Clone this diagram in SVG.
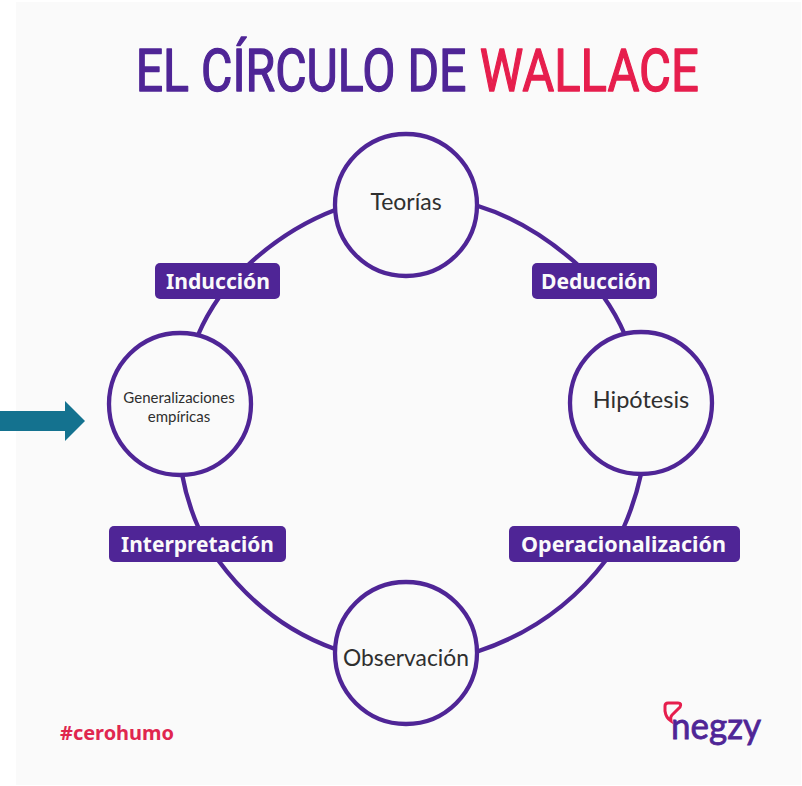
<svg xmlns="http://www.w3.org/2000/svg" width="802" height="786" viewBox="0 0 802 786">
<style>
.ring{fill:#fafafa;stroke:#4f2596;stroke-width:4.300}
.arc{fill:none;stroke:#4f2596;stroke-width:4.300}
.box{fill:#4f2596}
.lab{font-family:"Noto Sans","Liberation Sans",sans-serif;font-weight:700;font-size:22px;fill:#fafafa}
.node{font-family:"Lato","Liberation Sans",sans-serif;fill:#2f2f2f;text-anchor:middle}
.title{font-family:"Roboto","Liberation Sans",sans-serif;font-weight:400;font-size:58.500px;stroke-linejoin:round;stroke-width:1.300}
</style>
<rect width="802" height="786" fill="#fff"/>
<rect x="16" y="2" width="785" height="783" fill="#fafafa"/>
<g transform="scale(.78 1)">
<text class="title" x="174" y="91.500" fill="#4f2596" stroke="#4f2596" textLength="424" lengthAdjust="spacingAndGlyphs">EL CÍRCULO DE</text>
<text class="title" x="615" y="91.500" fill="#e61e4d" stroke="#e61e4d" textLength="281" lengthAdjust="spacingAndGlyphs">WALLACE</text>
</g>
<g id="connectors">
<path class="arc" d="M478 206Q530 222 578 265"/>
<path class="arc" d="M603 296Q616 314 625 335"/>
<path class="arc" d="M641 474Q635 502 623 529"/>
<path class="arc" d="M606 560Q556 626 476 652"/>
<path class="arc" d="M182 474Q187 502 199 529"/>
<path class="arc" d="M218 560Q265 624 335 649"/>
<path class="arc" d="M198 335Q206 316 220 296"/>
<path class="arc" d="M248 265Q288 228 335 210"/>
</g>
<g id="teorias"><circle class="ring" cx="406" cy="205" r="71"/><text class="node" x="406" y="210" font-size="23">Teorías</text></g>
<g id="hipotesis"><circle class="ring" cx="641" cy="403" r="71"/><text class="node" x="641" y="408" font-size="23.500">Hipótesis</text></g>
<g id="observacion"><circle class="ring" cx="406" cy="653" r="71"/><text class="node" x="406" y="666" font-size="22.800">Observación</text></g>
<g id="generalizaciones"><circle class="ring" cx="180" cy="404" r="71"/><text class="node" x="179" y="403" font-size="15">Generalizaciones</text><text class="node" x="179" y="422" font-size="15">empíricas</text></g>
<g id="induccion"><rect class="box" x="155" y="263" width="125" height="36" rx="5"/><text class="lab" x="166" y="288.500" textLength="104" lengthAdjust="spacingAndGlyphs">Inducción</text></g>
<g id="deduccion"><rect class="box" x="532" y="263" width="125" height="36" rx="5"/><text class="lab" x="541" y="288.500" textLength="110" lengthAdjust="spacingAndGlyphs">Deducción</text></g>
<g id="interpretacion"><rect class="box" x="109" y="526" width="177" height="36" rx="5"/><text class="lab" x="121" y="551.500" textLength="153" lengthAdjust="spacingAndGlyphs">Interpretación</text></g>
<g id="operacionalizacion"><rect class="box" x="509" y="526" width="231" height="36" rx="5"/><text class="lab" x="521" y="551.500" textLength="205" lengthAdjust="spacingAndGlyphs">Operacionalización</text></g>
<polygon id="arrow" points="0,411 65,411 65,401 85,421 65,441 65,431 0,431" fill="#14728f"/>
<text x="60" y="740" font-family="Noto Sans,Liberation Sans,sans-serif" font-weight="700" font-size="20" fill="#e0264f" textLength="114" lengthAdjust="spacingAndGlyphs">#cerohumo</text>
<g id="negzy">
<path d="M668 703L678 703Q682 703 680 707L672 715Q670 717 671 721Q666 718 665 711L665 706Q665 703 668 703Z" fill="none" stroke="#e61e4d" stroke-width="3"/>
<text x="671" y="739" font-family="Lato,Liberation Sans,sans-serif" font-size="37" font-weight="400" fill="#4f2596" stroke="#4f2596" stroke-width=".8" textLength="90" lengthAdjust="spacingAndGlyphs">negzy</text>
</g>
</svg>
